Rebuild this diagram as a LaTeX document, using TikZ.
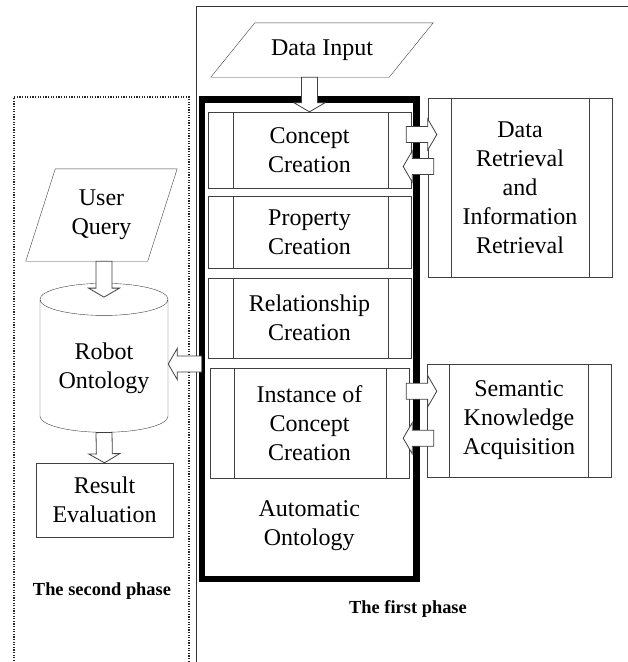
\documentclass[tikz,border=0pt]{standalone}
\usepackage{fontspec}
\setmainfont{Liberation Serif}
\usetikzlibrary{positioning, shapes.geometric, calc}

% hollow block arrow from #1 to tip #2
\newcommand{\blockarrow}[2]{%
  \path ($(#2)!9pt!(#1)$) coordinate (head);
  \draw[blk] ($(#1)!8pt!90:(#2)$) -- ($(head)!8pt!90:(#2)$) -- ($(head)!15.5pt!90:(#2)$)
    -- (#2) -- ($(head)!15.5pt!-90:(#2)$) -- ($(head)!8pt!-90:(#2)$) -- ($(#1)!8pt!-90:(#2)$) -- cycle;}

\begin{document}
\begin{tikzpicture}[
  x=1pt, y=-1pt,
  every node/.style={align=center},
  font=\fontsize{24}{29}\selectfont,
  proc/.style={draw=black!75, fill=white, minimum width=203pt, inner sep=0pt},
  io/.style={inner sep=0pt},
  frame/.style={draw, line width=6.5pt, minimum width=214.5pt, minimum height=479.5pt},
  blk/.style={draw=black!75, fill=white, line width=0.8pt},
  phase/.style={font=\fontsize{18.4}{21}\selectfont\bfseries}
]
\useasboundingbox (0,0) rectangle (628,662);

% phase borders
\draw[black!80, line width=0.9pt] (196,700) |- (700,6);
\draw[black!85, line width=1.5pt, dash pattern=on 1.3pt off 1.3pt] (14,700) |- (189,97) -- (189,700);

% first phase
\node[io, minimum width=178pt, minimum height=54pt] (input) at (322,50) {Data Input};
\node[frame] (auto) at (309.25,339.25) {};
\node[proc, minimum height=76pt] (concept) at (309.5,150) {Concept\\Creation};
\node[proc, minimum height=72pt, below=8pt of concept] (property) {Property\\Creation};
\node[proc, minimum height=80pt, below=9pt of property] (relation) {Relationship\\Creation};
\node[proc, minimum width=199pt, minimum height=110pt, below=10pt of relation] (instance) {Instance of\\Concept\\Creation};
\node[above=28pt of auto.south] (autotext) {Automatic\\Ontology};

\node[proc, minimum width=184pt, minimum height=179pt] (retrieval) at (520,187.5) {Data\\Retrieval\\and\\Information\\Retrieval};
\node[proc, minimum width=184pt, minimum height=113pt] (semantic) at (519,420.5) {Semantic\\Knowledge\\Acquisition};

\foreach \n/\l in {concept/25, property/25, relation/25, instance/24, retrieval/23, semantic/22}
  \draw[black!75] ([xshift=\l pt]\n.north west) -- ([xshift=\l pt]\n.south west)
                  ([xshift=-23pt]\n.north east) -- ([xshift=-23pt]\n.south east);

% second phase
\node[io, minimum width=121.5pt, minimum height=92pt] (query) at (101.5,215) {User\\Query};
\node[draw=black!75, fill=white, cylinder, shape border rotate=90, aspect=0.33, minimum width=128pt, minimum height=149pt] (onto) at (104,368.5) {Robot\\Ontology};
\node[draw=black!75, minimum width=137pt, minimum height=74pt] (result) at (104.5,500) {Result\\Evaluation};

% slanted input boxes
\foreach \n/\s in {input/22, query/14.75}
  \draw[black!75] ([xshift=-\s pt]\n.south west) -- ([xshift=\s pt]\n.north west)
                  -- ([xshift=\s pt]\n.north east) -- ([xshift=-\s pt]\n.south east) -- cycle;

\node[phase] (second) at (102,591) {The second phase};
\node[phase] (first) at (408,609) {The first phase};

% arrow ends
\coordinate (ontoin) at ([yshift=4.5pt]onto.east);
\path (auto.west |- ontoin) ++(3pt,0) coordinate (ontoout);
\coordinate (c1) at ([xshift=-5pt,yshift=15.5pt]concept.east);
\path (retrieval.west |- c1) ++(9pt,0) coordinate (r1);
\path ([yshift=-16.5pt]concept.east) ++(-8pt,0) coordinate (c2);
\path (retrieval.west |- c2) ++(6pt,0) coordinate (r2);
\coordinate (i1) at ([xshift=-3pt,yshift=32pt]instance.east);
\path (semantic.west |- i1) ++(10pt,0) coordinate (s1);
\path ([yshift=-15pt]instance.east) ++(-6pt,0) coordinate (i2);
\path (semantic.west |- i2) ++(7pt,0) coordinate (s2);

% block arrows
\blockarrow{concept.north |- input.south}{concept.north}
\blockarrow{onto.north |- query.south}{[yshift=-14pt]onto.north}
\blockarrow{onto.south}{result.north}
\blockarrow{ontoout}{ontoin}
\blockarrow{c1}{r1}
\blockarrow{r2}{c2}
\blockarrow{i1}{s1}
\blockarrow{s2}{i2}

\end{tikzpicture}
\end{document}
